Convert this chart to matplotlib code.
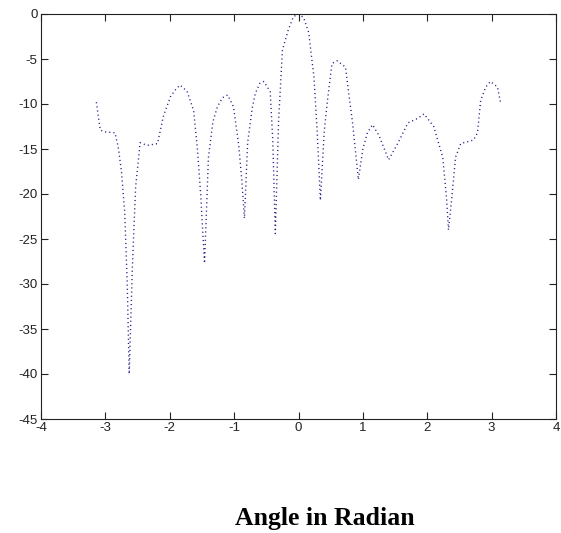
import matplotlib
matplotlib.use("Agg")
import matplotlib.pyplot as plt
import numpy as np

plt.rcParams['axes.unicode_minus'] = False

# Curve vertices (angle in radian, level)
angle = [-3.14, -3.08, -3.00, -2.85, -2.80, -2.75, -2.70, -2.66, -2.63, -2.58, -2.53,
         -2.46, -2.35, -2.19, -2.10, -1.99, -1.90, -1.84, -1.73, -1.63, -1.57, -1.52,
         -1.46, -1.42, -1.40, -1.33, -1.26, -1.18, -1.10, -1.01, -0.93, -0.88, -0.84,
         -0.79, -0.72, -0.67, -0.60, -0.54, -0.44, -0.40, -0.36, -0.31, -0.25, -0.16,
         -0.08, 0.00, 0.08, 0.16, 0.19, 0.24, 0.29, 0.34, 0.40, 0.45, 0.52, 0.60,
         0.73, 0.78, 0.84, 0.93, 1.00, 1.07, 1.15, 1.25, 1.40, 1.54, 1.70, 1.85,
         1.95, 2.10, 2.24, 2.30, 2.33, 2.38, 2.44, 2.52, 2.72, 2.78, 2.83, 2.91,
         2.98, 3.09, 3.14]
level = [-9.8, -12.9, -13.1, -13.2, -14.8, -17.5, -22.0, -30.0, -40.0, -28.0, -19.2,
         -14.3, -14.6, -14.4, -11.4, -9.2, -8.3, -7.9, -8.6, -10.7, -15.0, -20.0,
         -27.7, -20.0, -16.0, -12.0, -10.3, -9.3, -9.0, -10.3, -14.5, -18.5, -22.7,
         -14.3, -10.5, -8.8, -7.7, -7.5, -8.6, -14.0, -24.4, -12.0, -4.0, -1.8,
         -0.3, 0.0, -0.4, -2.1, -4.0, -7.0, -13.0, -20.7, -13.0, -9.6, -5.5, -5.2,
         -5.9, -8.8, -12.1, -18.4, -15.0, -13.2, -12.3, -13.5, -16.2, -14.4, -12.1, -11.6,
         -11.1, -12.5, -15.9, -20.5, -24.0, -20.5, -15.9, -14.4, -14.0, -13.2, -9.6, -8.1,
         -7.5, -8.1, -9.9]

xticks = [-4, -3, -2, -1, 0, 1, 2, 3, 4]
yticks = [-45, -40, -35, -30, -25, -20, -15, -10, -5, 0]

fig = plt.figure(figsize=(5.61, 5.33), dpi=100)
ax = fig.add_axes([41/561, 1 - 419/533, (556 - 41)/561, (419 - 14)/533])
ax.plot(angle, level, linestyle=(0, (0.8, 2.2)), color='#20208a', linewidth=1.0)
ax.set_xlim(-4, 4)
ax.set_ylim(-45, 0)
ax.set_xticks(xticks)
ax.set_yticks(yticks)
ax.tick_params(direction='in', length=5, width=0.8, top=True, right=True,
               labelsize=9.5, pad=2.5, colors='#222222')
for lab in ax.get_xticklabels() + ax.get_yticklabels():
    lab.set_family(['Liberation Sans', 'DejaVu Sans'])
for s in ax.spines.values():
    s.set_linewidth(0.8)
    s.set_color('#222222')

fig.text(325/561, 1 - 518/533, 'Angle in Radian', ha='center', va='center',
         family=['Liberation Serif', 'DejaVu Serif'], fontweight='bold', fontsize=18.5)

fig.savefig('out.png', dpi=100)
